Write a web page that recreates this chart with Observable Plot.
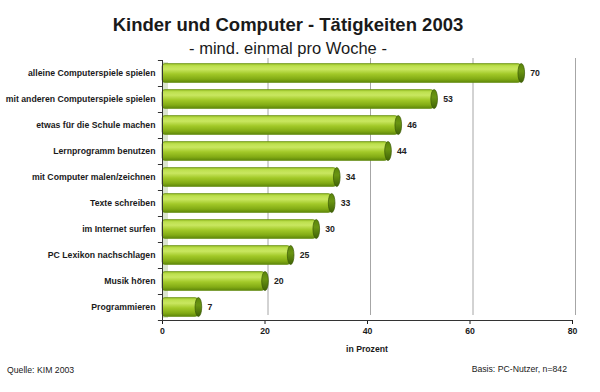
<!DOCTYPE html>
<html>
<head>
<meta charset="utf-8">
<script src="https://cdn.jsdelivr.net/npm/d3@7"></script>
<script src="https://cdn.jsdelivr.net/npm/@observablehq/plot@0.6"></script>
<style>
  html, body { margin: 0; padding: 0; background: #fff; }
  #wrap { position: relative; width: 600px; height: 392px; overflow: hidden; font-family: "Liberation Sans", Arial, sans-serif; color: #1a1a1a; }
  .t { position: absolute; line-height: 1; white-space: nowrap; }
  #chart { position: absolute; left: 0; top: 0; }
</style>
</head>
<body>
<div id="wrap">
  <div id="chart"></div>
  <div class="t" style="left:0;width:576px;text-align:center;top:16.3px;font-size:18.5px;font-weight:bold;">Kinder und Computer - Tätigkeiten 2003</div>
  <div class="t" style="left:0;width:576px;text-align:center;top:40px;font-size:16.5px;">- mind. einmal pro Woche -</div>
  <div class="t" style="left:267px;width:200px;text-align:center;top:344.6px;font-size:8.7px;font-weight:bold;">in Prozent</div>
  <div class="t" style="left:7px;top:365.6px;font-size:8.7px;">Quelle: KIM 2003</div>
  <div class="t" style="right:33px;top:364.6px;font-size:8.7px;">Basis: PC-Nutzer, n=842</div>
</div>
<script>
const categories = [
  "alleine Computerspiele spielen",
  "mit anderen Computerspiele spielen",
  "etwas für die Schule machen",
  "Lernprogramm benutzen",
  "mit Computer malen/zeichnen",
  "Texte schreiben",
  "im Internet surfen",
  "PC Lexikon nachschlagen",
  "Musik hören",
  "Programmieren"
];
const values = [70, 53, 46, 44, 34, 33, 30, 25, 20, 7];
const xTicks = [0, 20, 40, 60, 80];
const gridTicks = [20, 40, 60, 80];

const data = categories.map((c, i) => ({category: c, value: values[i]}));
const last = categories[categories.length - 1];

const chart = Plot.plot({
  width: 600,
  height: 392,
  marginTop: 60,
  marginBottom: 72,
  marginLeft: 162,
  marginRight: 28,
  style: {fontFamily: "Liberation Sans, Arial, sans-serif", fontSize: "8.7px", fontWeight: "bold", color: "#1a1a1a", background: "transparent"},
  x: {domain: [0, 80], ticks: xTicks, tickSize: 4, tickPadding: 3, label: null},
  y: {domain: categories, padding: 0, tickSize: 0, tickPadding: 7, label: null},
  marks: [
    // back wall strip
    Plot.ruleX([0], {stroke: "#dbe5cf", strokeWidth: 5, dx: 3, insetTop: 2, insetBottom: 2}),
    // gridlines
    Plot.ruleX(gridTicks, {stroke: "#a6a6a6", strokeWidth: 1, dx: 3, insetTop: -2, insetBottom: 5}),
    // main bars
    Plot.barX(data, {
      y: "category", x1: 0, x2: "value",
      insetTop: 3.5, insetBottom: 3.5,
      fill: "url(#barGrad)", stroke: "#5f8a0a", strokeWidth: 0.6, rx: 3
    }),
    // end caps
    Plot.barX(data, {
      y: "category", x1: d => d.value - 0.55, x2: d => d.value + 0.75,
      insetTop: 3.5, insetBottom: 3.5,
      fill: "url(#capGrad)", stroke: "#3b5a04", strokeWidth: 0.7, rx: 3.3, ry: 9.5
    }),
    // left axis line
    Plot.ruleX([0], {stroke: "#333", strokeWidth: 1}),
    // left ticks at band boundaries
    Plot.ruleY(categories, {x1: -0.8, x2: 0, dy: -13, stroke: "#333"}),
    // bottom axis line
    Plot.ruleY([last], {x1: -0.8, x2: 80, dy: 13, stroke: "#333"}),
    // value labels
    Plot.text(data, {y: "category", x: "value", text: d => String(d.value), dx: 9, textAnchor: "start", fill: "#222", fontWeight: "bold", fontSize: 8.7})
  ]
});

document.getElementById("chart").appendChild(chart);

// gradients
const ns = "http://www.w3.org/2000/svg";
const defs = document.createElementNS(ns, "defs");
function grad(id, stops) {
  const g = document.createElementNS(ns, "linearGradient");
  g.setAttribute("id", id);
  g.setAttribute("x1", "0"); g.setAttribute("y1", "0");
  g.setAttribute("x2", "0"); g.setAttribute("y2", "1");
  stops.forEach(([o, c]) => {
    const s = document.createElementNS(ns, "stop");
    s.setAttribute("offset", o);
    s.setAttribute("stop-color", c);
    g.appendChild(s);
  });
  defs.appendChild(g);
}
grad("barGrad", [["0", "#8db51c"], ["0.12", "#bde04e"], ["0.3", "#c9e760"], ["0.55", "#a2c928"], ["0.82", "#82ab14"], ["1", "#5d860a"]]);
grad("capGrad", [["0", "#5a840a"], ["0.4", "#6a9512"], ["1", "#3f6205"]]);
chart.insertBefore(defs, chart.firstChild);
</script>
</body>
</html>
